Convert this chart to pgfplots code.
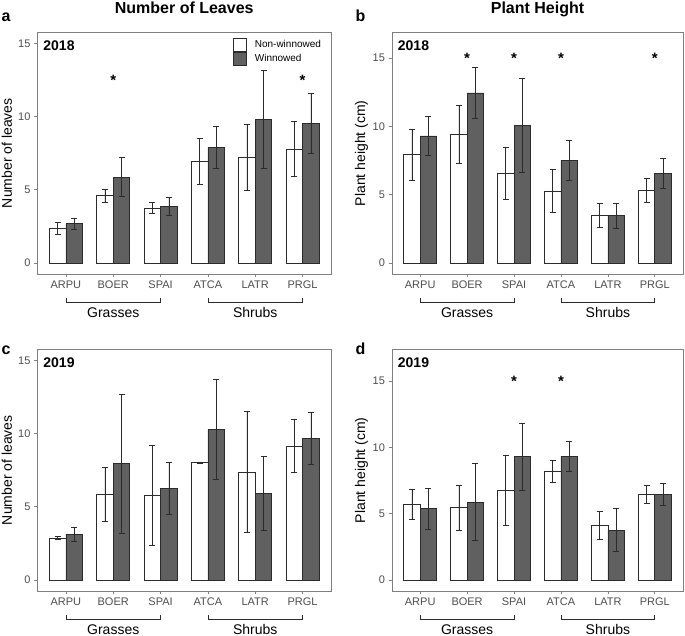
\documentclass[border=0pt]{standalone}
\usepackage{pgfplots}
\usepackage{pgfplotstable}
\pgfplotsset{compat=1.18}
\usepackage{fontspec}
\setmainfont{Liberation Sans}
\definecolor{barg}{HTML}{606060}
\definecolor{frameg}{HTML}{7F7F7F}
\definecolor{tickg}{HTML}{4D4D4D}
\definecolor{edge}{HTML}{2B2B2B}

% xa, xb: positions of the Non-winnowed and Winnowed bars of each species
\pgfplotstableread{
xa xb nw nwe w we
0.825 1.175 2.38 0.39 2.69 0.36
1.825 2.175 4.60 0.45 5.86 1.33
2.825 3.175 3.76 0.37 3.86 0.63
3.825 4.175 6.95 1.57 7.90 1.44
4.825 5.175 7.23 2.25 9.81 3.35
5.825 6.175 7.78 1.88 9.54 2.05
}\dataA
\pgfplotstableread{
xa xb nw nwe w we
0.825 1.175 7.93 1.85 9.30 1.40
1.825 2.175 9.42 2.13 12.45 1.87
2.825 3.175 6.59 1.90 10.08 3.47
3.825 4.175 5.26 1.56 7.53 1.48
4.825 5.175 3.47 0.87 3.47 0.92
5.825 6.175 5.31 0.89 6.54 1.09
}\dataB
\pgfplotstableread{
xa xb nw nwe w we
0.825 1.175 2.88 0.13 3.12 0.48
1.825 2.175 5.87 1.85 7.95 4.75
2.825 3.175 5.80 3.41 6.26 1.80
3.825 4.175 8.01 0.02 10.27 3.41
4.825 5.175 7.38 4.15 5.94 2.53
5.825 6.175 9.16 1.80 9.70 1.78
}\dataC
\pgfplotstableread{
xa xb nw nwe w we
0.825 1.175 5.70 1.14 5.38 1.53
1.825 2.175 5.46 1.71 5.88 2.90
2.825 3.175 6.76 2.65 9.30 2.54
3.825 4.175 8.17 0.83 9.35 1.13
4.825 5.175 4.11 1.04 3.77 1.60
5.825 6.175 6.46 0.68 6.46 0.86
}\dataD

\pgfplotsset{
  panel/.style={
    scale only axis, width=#1, height=241.5pt,
    xmin=0.4, xmax=6.6,
    xtick={1,...,6}, xticklabels={ARPU,BOER,SPAI,ATCA,LATR,PRGL},
    ytick={0,5,10,15},
    axis line style={frameg, line width=0.8pt},
    tick style={frameg, line width=0.8pt},
    tick align=outside, major tick length=3.5pt,
    xtick pos=bottom, ytick pos=left,
    ticklabel style={font=\fontsize{11}{13}\selectfont, text=tickg},
    /pgf/number format/assume math mode=true,
    ylabel style={font=\fontsize{14}{16}\selectfont, at={(axis description cs:-0.1045,0.5)}, anchor=center},
    title style={font=\fontsize{16}{18}\selectfont\bfseries, at={(axis description cs:0.5,1)}, anchor=base, yshift=13pt},
    clip=false,
  },
  barbase/.style={ybar, bar width=0.35, bar shift=0pt, draw=edge, line width=0.7pt, forget plot,
    error bars/.cd, y dir=both, y explicit,
    error bar style={edge, line width=0.7pt},
    error mark=-,
    error mark options={edge, rotate=90, mark size=3pt, line width=0.7pt}},
  nw/.style={fill=white, barbase},
  ww/.style={fill=barg, barbase},
  stars/.style={draw=none, mark=none, forget plot, nodes near coords={*},
    nodes near coords style={anchor=center, font=\fontsize{15}{15}\selectfont\bfseries, yshift=-3.3pt, inner sep=0pt}},
}

\newcommand{\groups}{%
  \draw[edge, line width=0.7pt] ([yshift=-24.3pt]axis description cs:0.09677,0) -- ([yshift=-28.3pt]axis description cs:0.09677,0) -- ([yshift=-28.3pt]axis description cs:0.41935,0) -- ([yshift=-24.3pt]axis description cs:0.41935,0);
  \draw[edge, line width=0.7pt] ([yshift=-24.3pt]axis description cs:0.58065,0) -- ([yshift=-28.3pt]axis description cs:0.58065,0) -- ([yshift=-28.3pt]axis description cs:0.90323,0) -- ([yshift=-24.3pt]axis description cs:0.90323,0);
  \node[font=\fontsize{14}{16}\selectfont, anchor=center, yshift=-38.5pt] at (axis description cs:0.25806,0) {Grasses};
  \node[font=\fontsize{14}{16}\selectfont, anchor=center, yshift=-38.5pt] at (axis description cs:0.74194,0) {Shrubs};
}
\newcommand{\yearlabel}[1]{%
  \node[font=\fontsize{14}{16}\selectfont\bfseries, anchor=base west, inner sep=0pt, xshift=5.7pt, yshift=-17.9pt] at (axis description cs:0,1) {#1};
}

\begin{document}
\begin{tikzpicture}
\useasboundingbox (0pt,0pt) rectangle (685pt,636pt);

% panel a
\begin{axis}[panel=293.5pt, at={(37.5pt,362pt)}, anchor=south west,
  ymin=-0.75, ymax=15.75, ylabel={Number of leaves}, title={Number of Leaves},
  legend style={at={(axis description cs:0.6671,1)}, anchor=north west, yshift=-5.5pt,
    draw=none, fill=none, inner sep=0pt, outer sep=0pt, row sep=0pt,
    font=\fontsize{10}{12}\selectfont,
    nodes={inner sep=0pt}},
  legend cell align=left]
\addplot[nw] table[x=xa, y=nw, y error=nwe]{\dataA};
\addplot[ww] table[x=xb, y=w, y error=we]{\dataA};
\addplot[stars] coordinates {(2,12.7) (6,12.7)};
\addlegendimage{legend image code/.code={\draw[fill=white, draw=edge, line width=0.7pt] (0pt,-6.5pt) rectangle (13pt,6.5pt); \path (21pt,0pt);}}
\addlegendentry{Non-winnowed}
\addlegendimage{legend image code/.code={\draw[fill=barg, draw=edge, line width=0.7pt] (0pt,-6.5pt) rectangle (13pt,6.5pt); \path (21pt,0pt);}}
\addlegendentry{Winnowed}
\groups
\yearlabel{2018}
\end{axis}

% panel b
\begin{axis}[panel=291pt, at={(392pt,362pt)}, anchor=south west,
  ymin=-0.80, ymax=16.87, ylabel={Plant height (cm)}, title={Plant Height}]
\addplot[nw] table[x=xa, y=nw, y error=nwe]{\dataB};
\addplot[ww] table[x=xb, y=w, y error=we]{\dataB};
\addplot[stars] coordinates {(2,15.24) (3,15.24) (4,15.24) (6,15.24)};
\groups
\yearlabel{2018}
\end{axis}

% panel c
\begin{axis}[panel=293.5pt, at={(37.5pt,45pt)}, anchor=south west,
  ymin=-0.75, ymax=15.75, ylabel={Number of leaves}]
\addplot[nw] table[x=xa, y=nw, y error=nwe]{\dataC};
\addplot[ww] table[x=xb, y=w, y error=we]{\dataC};
\groups
\yearlabel{2019}
\end{axis}

% panel d
\begin{axis}[panel=291pt, at={(392pt,45pt)}, anchor=south west,
  ymin=-0.83, ymax=17.39, ylabel={Plant height (cm)}]
\addplot[nw] table[x=xa, y=nw, y error=nwe]{\dataD};
\addplot[ww] table[x=xb, y=w, y error=we]{\dataD};
\addplot[stars] coordinates {(3,15.2) (4,15.2)};
\groups
\yearlabel{2019}
\end{axis}

\node[font=\fontsize{16}{18}\selectfont\bfseries, anchor=base west, inner sep=0pt] at (1.5pt,614.5pt) {a};
\node[font=\fontsize{16}{18}\selectfont\bfseries, anchor=base west, inner sep=0pt] at (355.5pt,614.5pt) {b};
\node[font=\fontsize{16}{18}\selectfont\bfseries, anchor=base west, inner sep=0pt] at (1.5pt,281pt) {c};
\node[font=\fontsize{16}{18}\selectfont\bfseries, anchor=base west, inner sep=0pt] at (355.5pt,281pt) {d};
\end{tikzpicture}
\end{document}
